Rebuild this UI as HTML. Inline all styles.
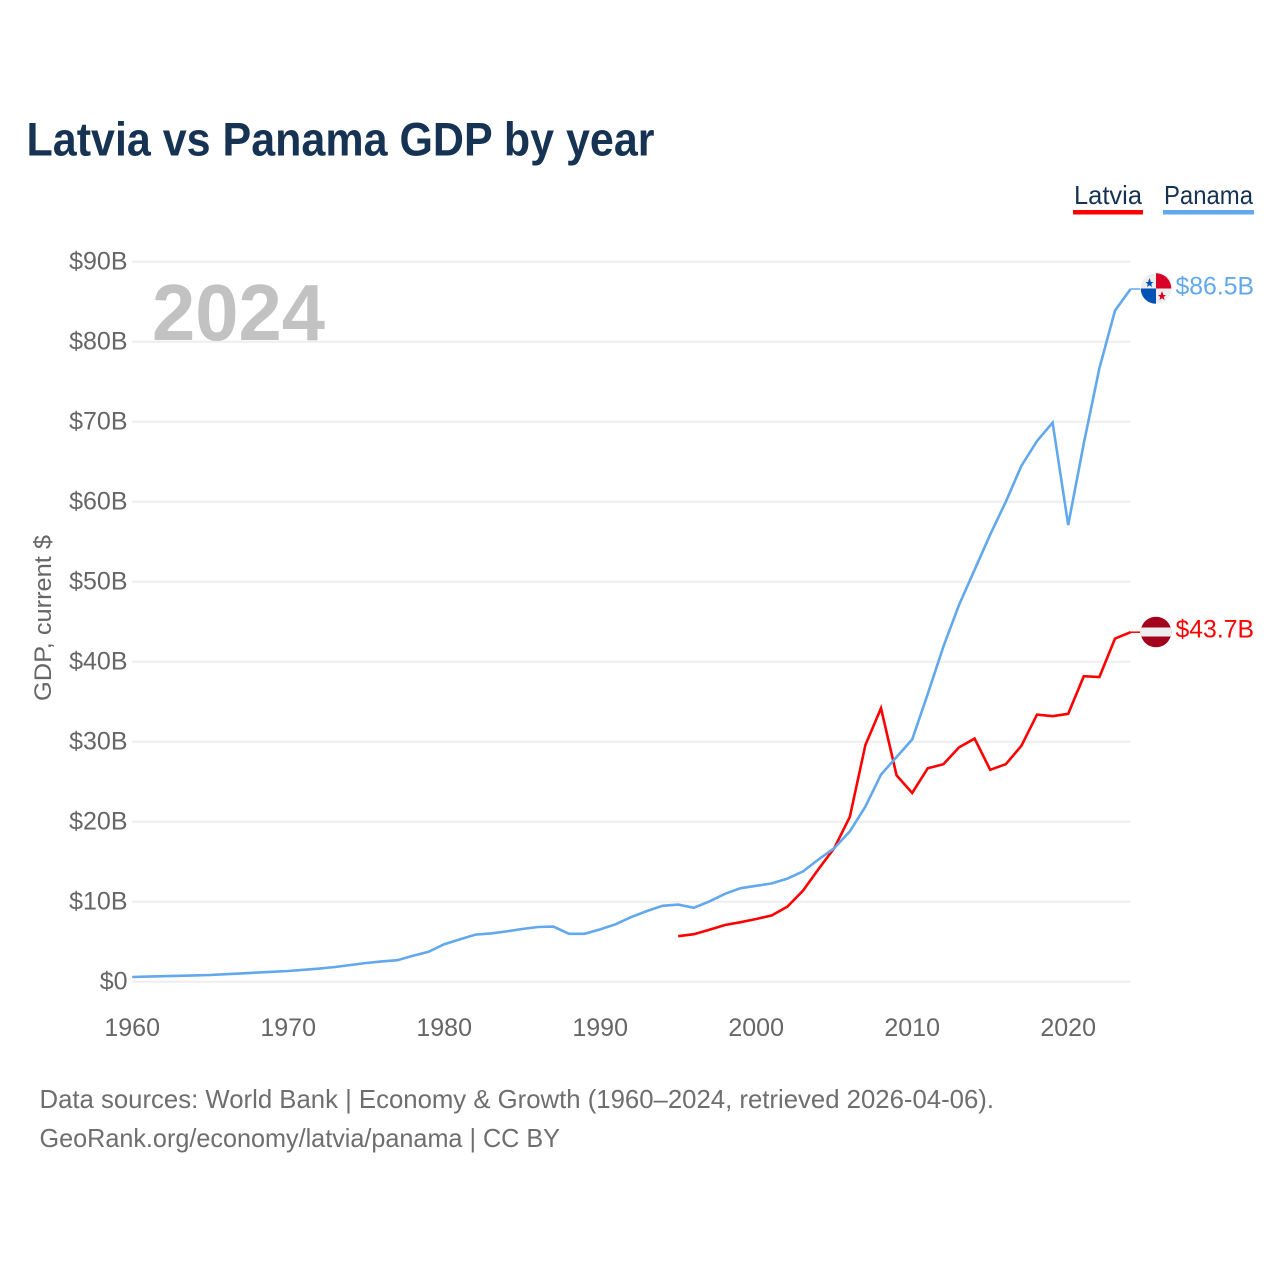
<!DOCTYPE html>
<html lang="en">
<head>
<meta charset="utf-8">
<title>Latvia vs Panama GDP by year</title>
<style>
html,body{margin:0;padding:0;background:#fff;}
#chart{display:block;width:1280px;height:1280px;font-family:"Liberation Sans",sans-serif;}
</style>
</head>
<body>
<svg id="chart" xmlns="http://www.w3.org/2000/svg" width="1280" height="1280" viewBox="0 0 1280 1280">
  <rect width="1280" height="1280" fill="#fff"/>
  <text x="26.5" y="155.5" font-size="47" font-weight="700" fill="#163354" textLength="628" lengthAdjust="spacingAndGlyphs">Latvia vs Panama GDP by year</text>

  <g id="grid"></g>
  <g id="yticks"></g>
  <g id="xticks"></g>

  <text x="152" y="340" font-size="80" font-weight="700" fill="#c2c2c2" textLength="173" lengthAdjust="spacingAndGlyphs">2024</text>
  <text transform="translate(51,618) rotate(-90)" text-anchor="middle" font-size="24" fill="#666" textLength="166" lengthAdjust="spacingAndGlyphs">GDP, current $</text>

  <g id="series"></g>

  <g>
    <text x="1074" y="204" font-size="26" fill="#163354" textLength="68" lengthAdjust="spacingAndGlyphs">Latvia</text>
    <rect x="1073" y="210" width="70" height="4.5" fill="#ff0000"/>
  </g>
  <g>
    <text x="1164" y="204" font-size="26" fill="#163354" textLength="89" lengthAdjust="spacingAndGlyphs">Panama</text>
    <rect x="1163" y="210" width="91" height="4.5" fill="#62a8ec"/>
  </g>

  <defs>
    <clipPath id="flag-clip-pa"><circle cx="1156" cy="288.5" r="15.3"/></clipPath>
    <clipPath id="flag-clip-lv"><circle cx="1156" cy="632" r="15.3"/></clipPath>
  </defs>
  <g clip-path="url(#flag-clip-pa)">
    <rect x="1140" y="273" width="32" height="31" fill="#eeeeee"/>
    <rect x="1156" y="273" width="16" height="15.5" fill="#d80027"/>
    <rect x="1140" y="288.5" width="16" height="15.5" fill="#0052b4"/>
    <polygon points="1149.5,279 1150.9,283 1153.5,283 1151.3,285 1152,288 1149.5,286.3 1147,288 1147.7,285 1145.5,283 1148.1,283" fill="#0052b4" transform="translate(0,-1)"/>
    <polygon points="1162,291 1163.4,295 1166,295 1163.8,297 1164.5,300 1162,298.3 1159.5,300 1160.2,297 1158,295 1160.6,295" fill="#d80027" transform="translate(0,0)"/>
  </g>
  <g clip-path="url(#flag-clip-lv)">
    <rect x="1140" y="616" width="32" height="32" fill="#a2001d"/>
    <rect x="1140" y="627.5" width="32" height="9" fill="#eeeeee"/>
  </g>
  <g id="endlabels"></g>

  <text x="39.5" y="1108" font-size="26" fill="#6e6e6e" textLength="954.5" lengthAdjust="spacingAndGlyphs">Data sources: World Bank | Economy &amp; Growth (1960–2024, retrieved 2026-04-06).</text>
  <text x="39.5" y="1147" font-size="26" fill="#6e6e6e" textLength="520.5" lengthAdjust="spacingAndGlyphs">GeoRank.org/economy/latvia/panama | CC BY</text>
</svg>
<script>
const panamaStartYear = 1960;
const panamaValues = [0.6,0.65,0.7,0.75,0.8,0.85,0.95,1.05,1.15,1.25,1.35,1.5,1.65,1.85,2.1,2.35,2.55,2.7,3.25,3.75,4.7,5.3,5.9,6.05,6.3,6.6,6.85,6.9,6.0,6.0,6.55,7.2,8.1,8.85,9.5,9.65,9.25,10.05,11.0,11.7,12.0,12.3,12.9,13.8,15.3,16.7,18.8,21.9,25.9,28.1,30.3,36.0,41.9,47.1,51.5,55.9,60.0,64.5,67.6,69.9,57.1,67.3,76.7,83.9,86.6];
const latviaStartYear = 1995;
const latviaValues = [5.7,5.95,6.5,7.1,7.45,7.85,8.3,9.4,11.4,14.1,16.7,20.6,29.6,34.2,25.8,23.6,26.7,27.2,29.3,30.4,26.5,27.2,29.5,33.4,33.2,33.5,38.2,38.1,42.9,43.7];
const yTickValues = [0,10,20,30,40,50,60,70,80,90];
const yTickLabels = ['$0','$10B','$20B','$30B','$40B','$50B','$60B','$70B','$80B','$90B'];
const xTickYears = [1960,1970,1980,1990,2000,2010,2020];
const endLabels = ['$86.5B','$43.7B'];

const NS = 'http://www.w3.org/2000/svg';
const xScale = year => 132.2 + (year - 1960) * 15.6;
const yScale = value => 981.8 - value * 8;

function make(tag, attrs, parent, text) {
  const el = document.createElementNS(NS, tag);
  Object.keys(attrs).forEach(k => el.setAttribute(k, attrs[k]));
  if (text !== undefined) el.textContent = text;
  parent.appendChild(el);
  return el;
}

const grid = document.getElementById('grid');
const yticks = document.getElementById('yticks');
const xticks = document.getElementById('xticks');
const series = document.getElementById('series');
const endlabels = document.getElementById('endlabels');

yTickValues.forEach((v, i) => {
  const line = make('line', {x1: 132, x2: xScale(2024), y1: yScale(v), y2: yScale(v), stroke: '#eeeeee', 'stroke-width': 2}, grid);
  
  
  const label = make('text', {x: 127.5, y: yScale(v) + 7.5, 'text-anchor': 'end', 'font-size': 25, fill: '#666'}, yticks, yTickLabels[i]);
  
  
});

xTickYears.forEach(year => {
  const label = make('text', {x: xScale(year), y: 1036, 'text-anchor': 'middle', 'font-size': 25, fill: '#666'}, xticks, String(year));
  
  
});

function drawSeries(values, startYear, color, name, labelText) {
  const pts = values.map((v, i) => xScale(startYear + i).toFixed(1) + ',' + yScale(v).toFixed(1)).join(' ');
  const line = make('polyline', {points: pts, fill: 'none', stroke: color, 'stroke-width': 2.6, 'stroke-linejoin': 'miter'}, series);
  
  
  const lastY = yScale(values[values.length - 1]);
  const lastX = xScale(startYear + values.length - 1);
  const connector = make('line', {x1: lastX, x2: 1140, y1: lastY, y2: lastY, stroke: color, 'stroke-width': 1.5}, series);
  
  
  const label = make('text', {x: 1175.5, y: lastY + 5.5, 'font-size': 25, fill: color, textLength: 78.5, lengthAdjust: 'spacingAndGlyphs'}, endlabels, labelText);
  
  
}

drawSeries(latviaValues, latviaStartYear, '#ff0000', 'latvia', endLabels[1]);
drawSeries(panamaValues, panamaStartYear, '#62a8ec', 'panama', endLabels[0]);
</script>
</body>
</html>
